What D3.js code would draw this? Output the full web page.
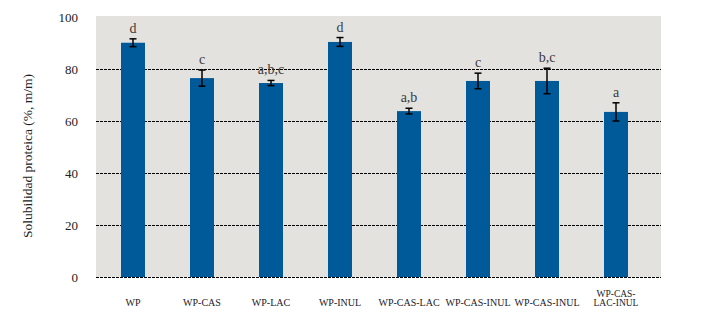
<!DOCTYPE html>
<html>
<head>
<meta charset="utf-8">
<script src="https://cdn.jsdelivr.net/npm/d3@7"></script>
<style>
  body { margin: 0; background: #fff; }
  text { font-family: "Liberation Serif", "DejaVu Serif", serif; }
</style>
</head>
<body>
<div id="chart"></div>
<script>
// Data
const categories = ["WP", "WP-CAS", "WP-LAC", "WP-INUL", "WP-CAS-LAC", "WP-CAS-INUL", "WP-CAS-INUL2", "WP-CAS-LAC-INUL"];
const labels = [["WP"], ["WP-CAS"], ["WP-LAC"], ["WP-INUL"], ["WP-CAS-LAC"], ["WP-CAS-INUL"], ["WP-CAS-INUL"], ["WP-CAS-", "LAC-INUL"]];
const values = [90.1, 76.5, 74.6, 90.4, 63.8, 75.4, 75.4, 63.5];
const errors = [1.5, 3.1, 1.0, 1.7, 1.1, 3.0, 4.9, 3.5];
const letters = ["d", "c", "a,b,c", "d", "a,b", "c", "b,c", "a"];
const yTicks = [0, 20, 40, 60, 80, 100];

const W = 705, H = 325;
const plot = {left: 96, right: 661, top: 16, bottom: 277};

const svg = d3.select("#chart")
    .append("svg")
    .attr("width", W)
    .attr("height", H);

// Scales
const x = d3.scaleBand()
    .domain(categories)
    .range([98.5, 650.5])
    .paddingInner(45 / 69)
    .paddingOuter(45 / 138);

const y = d3.scaleLinear()
    .domain([0, 100])
    .range([plot.bottom, plot.bottom - 260]);

// Plot background
svg.append("rect")
    .attr("x", plot.left)
    .attr("y", plot.top)
    .attr("width", plot.right - plot.left)
    .attr("height", plot.bottom - plot.top)
    .attr("fill", "#e3e2de");

// Dashed gridlines (not at 100)
svg.append("g")
    .selectAll("line")
    .data(yTicks.filter(d => d < 100))
    .enter().append("line")
    .attr("x1", plot.left)
    .attr("x2", plot.right)
    .attr("y1", d => Math.round(y(d)) + 0.5)
    .attr("y2", d => Math.round(y(d)) + 0.5)
    .attr("stroke", "#000")
    .attr("stroke-width", 1)
    .attr("stroke-dasharray", "3,1");

// Y axis labels
const yAxis = svg.append("g")
    .attr("transform", `translate(${plot.left - 12},0)`)
    .call(d3.axisLeft(y).tickValues(yTicks).tickSize(0).tickPadding(6));
yAxis.select(".domain").remove();
yAxis.selectAll("text")
    .style("font-family", "'Liberation Serif', serif")
    .style("font-size", "13px")
    .attr("fill", "#222");

// Y axis title
svg.append("text")
    .attr("transform", "rotate(-90)")
    .attr("x", -156)
    .attr("y", 32)
    .attr("text-anchor", "middle")
    .style("font-size", "13.5px")
    .attr("fill", "#222")
    .text("Solubilidad proteica (%, m/m)");

// Bars
svg.append("g")
    .selectAll("rect")
    .data(categories)
    .enter().append("rect")
    .attr("x", d => x(d))
    .attr("y", (d, i) => y(values[i]))
    .attr("width", x.bandwidth())
    .attr("height", (d, i) => y(0) - y(values[i]))
    .attr("fill", "#005999");

// Error bars
const eb = svg.append("g").attr("stroke", "#000").attr("stroke-width", 1.5);
categories.forEach((c, i) => {
    const cx = x(c) + x.bandwidth() / 2;
    const hi = y(values[i] + errors[i]);
    const lo = y(values[i] - errors[i]);
    eb.append("line").attr("x1", cx).attr("x2", cx).attr("y1", hi).attr("y2", lo);
    eb.append("line").attr("x1", cx - 3.5).attr("x2", cx + 3.5).attr("y1", hi).attr("y2", hi);
    eb.append("line").attr("x1", cx - 3.5).attr("x2", cx + 3.5).attr("y1", lo).attr("y2", lo);
});

// Significance letters
svg.append("g")
    .selectAll("text")
    .data(categories)
    .enter().append("text")
    .attr("x", d => x(d) + x.bandwidth() / 2)
    .attr("y", (d, i) => y(values[i] + errors[i]) - 6)
    .attr("text-anchor", "middle")
    .style("font-size", "14px")
    .attr("fill", "#3d3a40")
    .text((d, i) => letters[i]);

// X labels (one text per line so the two-line label does not collide)
const xl = svg.append("g");
categories.forEach((c, i) => {
    const lines = labels[i];
    lines.forEach((l, j) => {
        xl.append("text")
            .attr("x", x(c) + x.bandwidth() / 2)
            .attr("y", 306 - (lines.length - 1 - j) * 9.5)
            .attr("text-anchor", "middle")
            .style("font-size", lines.length > 1 ? "9.5px" : "10px")
            .attr("fill", "#1a1a2a")
            .text(l);
    });
});
</script>
</body>
</html>
